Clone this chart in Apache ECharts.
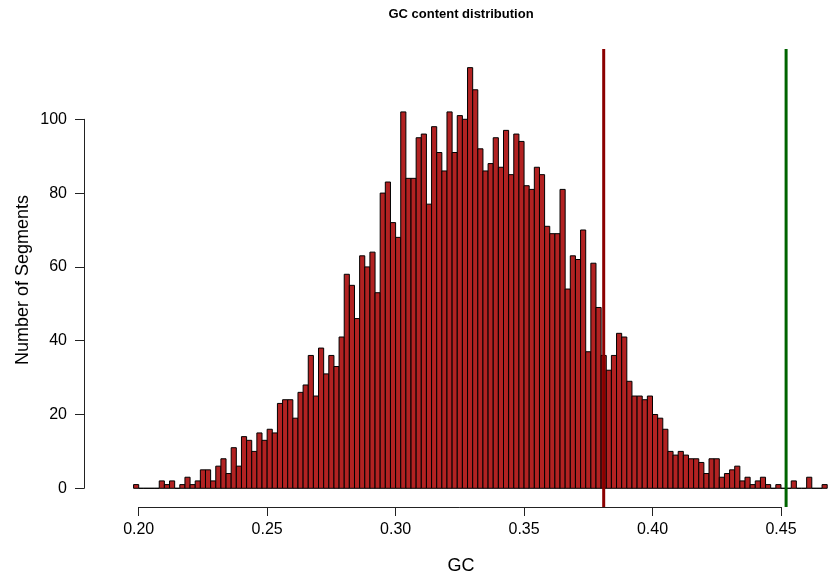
<!DOCTYPE html>
<html><head><meta charset="utf-8">
<script src="https://cdn.jsdelivr.net/npm/echarts@6/dist/echarts.min.js"></script>
<style>html,body{margin:0;padding:0;background:#fff}#c{width:828px;height:578px}</style>
</head><body><div id="c"></div>
<script>
// Histogram bins
var binStart = 0.198;
var binWidth = 0.002;
var counts = [
  1,0,0,0,0,2,1,2,0,1,
  3,1,2,5,5,2,6,8,4,11,
  6,14,13,10,15,13,16,15,23,24,
  24,19,26,28,36,25,38,31,36,33,
  41,58,55,46,63,60,64,53,80,83,
  72,68,102,84,84,95,96,77,98,91,
  86,102,91,101,100,114,108,92,86,88,
  95,87,97,85,96,94,82,81,87,85,
  71,69,69,81,54,63,62,70,37,61,
  49,36,32,36,42,41,29,25,25,24,
  25,20,19,16,10,9,10,9,8,8,
  7,4,8,8,3,4,5,6,2,3,
  1,2,3,1,0,1,0,0,2,0,
  0,3,0,0,1
];
var xTicks = [0.20, 0.25, 0.30, 0.35, 0.40, 0.45];
var yTicks = [0, 20, 40, 60, 80, 100];
var redLineX = 0.381;
var greenLineX = 0.452;

var FONT = "'Liberation Sans', Arial, Helvetica, sans-serif";

var binData = counts.map(function (c, i) {
  var x0 = binStart + i * binWidth;
  return [x0, x0 + binWidth, c];
});

var yLo = -5.07, yHi = 119.05;

var chart = echarts.init(document.getElementById('c'), null, {renderer: 'canvas'});
chart.setOption({
  animation: false,
  backgroundColor: '#fff',
  grid: [
    {left: 84, right: 0, top: 49, bottom: 71},
    {left: 84, width: 10, top: 119.3, bottom: 89.7},
    {left: 138.7, right: 47, bottom: 71, height: 10}
  ],
  xAxis: [
    {gridIndex: 0, type: 'value', min: 0.17871, max: 0.46831, show: false},
    {gridIndex: 1, type: 'value', show: false},
    {gridIndex: 2, type: 'value', position: 'bottom', min: xTicks[0], max: xTicks[xTicks.length - 1], interval: 0.05,
      axisLine: {show: true, onZero: false, lineStyle: {color: '#222', width: 1}},
      axisTick: {show: true, length: 9, lineStyle: {color: '#222'}},
      axisLabel: {show: true, margin: 15, fontSize: 16, color: '#000', fontFamily: FONT,
        formatter: function (v) { return v.toFixed(2); }},
      splitLine: {show: false}}
  ],
  yAxis: [
    {gridIndex: 0, type: 'value', min: yLo, max: yHi, show: false},
    {gridIndex: 1, type: 'value', position: 'left', min: yTicks[0], max: yTicks[yTicks.length - 1], interval: 20,
      axisLine: {show: true, onZero: false, lineStyle: {color: '#222', width: 1}},
      axisTick: {show: true, length: 9, lineStyle: {color: '#222'}},
      axisLabel: {show: true, margin: 17, fontSize: 16, color: '#000', fontFamily: FONT},
      splitLine: {show: false}},
    {gridIndex: 2, type: 'value', show: false}
  ],
  graphic: [
    {type: 'text', x: 461, y: 14, style: {text: 'GC content distribution', font: 'bold 13px ' + FONT, fill: '#000', textAlign: 'center', textVerticalAlign: 'middle'}},
    {type: 'text', x: 461, y: 566, style: {text: 'GC', font: '18px ' + FONT, fill: '#000', textAlign: 'center', textVerticalAlign: 'middle'}},
    {type: 'text', x: 23, y: 280, rotation: Math.PI / 2, style: {text: 'Number of Segments', font: '18px ' + FONT, fill: '#000', textAlign: 'center', textVerticalAlign: 'middle'}}
  ],
  series: [
    {
      type: 'custom', xAxisIndex: 0, yAxisIndex: 0,
      data: binData,
      encode: {x: [0, 1], y: 2},
      renderItem: function (params, api) {
        var p0 = api.coord([api.value(0), 0]);
        var p1 = api.coord([api.value(1), api.value(2)]);
        return {
          type: 'rect',
          shape: {x: p0[0], y: p1[1], width: p1[0] - p0[0], height: p0[1] - p1[1]},
          style: {fill: '#B22222', stroke: '#000', lineWidth: 1}
        };
      }
    },
    {type: 'line', xAxisIndex: 0, yAxisIndex: 0, symbol: 'none', silent: true,
      data: [[redLineX, yLo], [redLineX, yHi]], lineStyle: {color: '#8B0000', width: 3}},
    {type: 'line', xAxisIndex: 0, yAxisIndex: 0, symbol: 'none', silent: true,
      data: [[greenLineX, yLo], [greenLineX, yHi]], lineStyle: {color: '#006400', width: 3}}
  ]
});
</script>
</body></html>
